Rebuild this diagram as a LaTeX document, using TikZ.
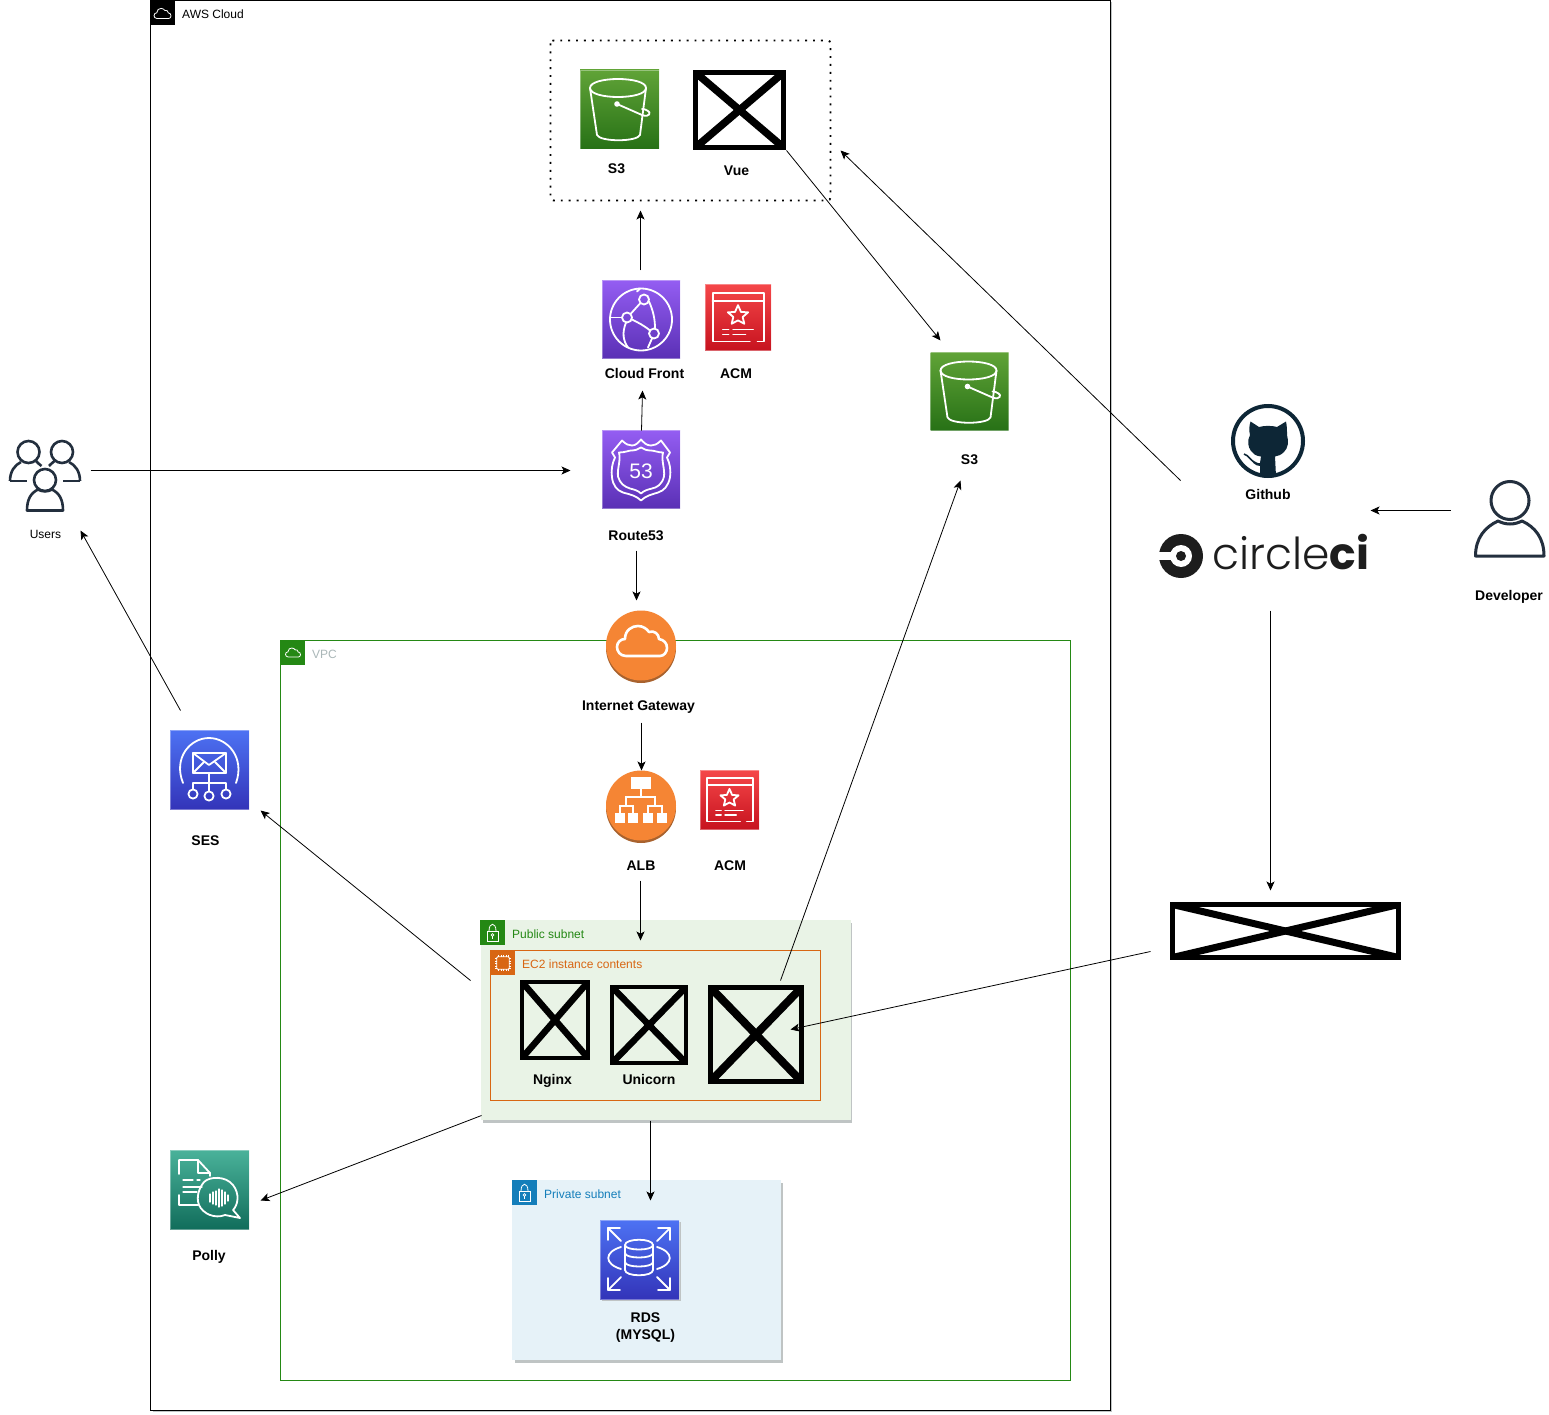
\documentclass[tikz,border=0pt]{standalone}
\usepackage{fontspec}
\setmainfont{Liberation Sans}
\newfontfamily\ccifont[UprightFont=* Light,BoldFont=* Bold]{Poppins}
\usetikzlibrary{arrows.meta,shadings}
\definecolor{awsgreen}{HTML}{248814}
\definecolor{ec2org}{HTML}{D86613}
\definecolor{privblue}{HTML}{147EBA}
\definecolor{awsink}{HTML}{232F3E}
\definecolor{ghink}{HTML}{0D2636}
\definecolor{ccink}{HTML}{1D1D1D}
\definecolor{orangef}{HTML}{F58534}
\definecolor{oranged}{HTML}{A8622E}
\definecolor{shadowc}{HTML}{BFC4C4}
\definecolor{vpcgrey}{HTML}{AAB7B8}
\definecolor{sgt}{HTML}{60A337}\definecolor{sgb}{HTML}{277116}
\definecolor{cft}{HTML}{945DF2}\definecolor{cfb}{HTML}{5A30B5}
\definecolor{act}{HTML}{F54749}\definecolor{acb}{HTML}{C7131F}
\definecolor{bt}{HTML}{4D72F3}\definecolor{bb}{HTML}{3334B9}
\definecolor{pt}{HTML}{4AB29A}\definecolor{pb}{HTML}{116D5B}
\tikzset{
 x=1pt,y=-1pt,
 conn/.style={draw=black,line width=0.8pt,-{Stealth[length=9pt,width=8pt,inset=2.2pt]}},
 lbl/.style={font=\bfseries\fontsize{14}{17}\selectfont,align=center,inner sep=0pt,text=black},
 small/.style={font=\fontsize{12}{14}\selectfont,inner sep=0pt,anchor=west},
 tile/.style={inner sep=0pt,outer sep=0pt,minimum size=#1pt,draw=white,draw opacity=0.35,line width=0.7pt},
 gl/.style={draw=white,line width=1.8pt,line join=round,line cap=round,fill=none},
 thin gl/.style={gl,line width=1.3pt},
 ink/.style={draw=awsink,line width=2.6pt,line join=round,fill=none},
 tag/.style={inner sep=0pt,outer sep=0pt,minimum size=25pt},
 xb/.style={draw=black,inner sep=0pt,outer sep=0pt},
}
\newcommand{\gSThree}{%
 \draw[gl] (10,18) .. controls (10,6) and (66,6) .. (66,18) .. controls (66,30) and (10,30) .. (10,18);
 \draw[gl] (10,18) -- (17,65) .. controls (20,72) and (57,72) .. (60,65) -- (66,18);
 \draw[gl] (37,34) -- (62,45) .. controls (70,48) and (71,42) .. (68,41) .. controls (65,39) and (63,39) .. (62,39);
 \fill[white] (37,34) circle (2.8);}
\newcommand{\gCloudFront}{%
 \draw[gl] (39,39) circle (31);
 \draw[gl] (42,19) circle (5); \draw[gl] (25,37) circle (5); \draw[gl] (52,53) circle (5);
 \draw[gl] (29,33) -- (38,23);
 \draw[gl] (30,39) .. controls (36,42) and (42,45) .. (48,50);
 \draw[gl] (47,21) .. controls (51,30) and (53,38) .. (53,48);
 \draw[gl] (24,42) .. controls (20,52) and (21,60) .. (26,67);
 \draw[gl] (8,37) -- (20,37);
 \draw[gl] (35,11) -- (38,8); \draw[gl] (50,58) -- (46,67);}
\newcommand{\gACM}{%
 \draw[gl] (53,68) -- (9,68) -- (9,11) -- (70,11) -- (70,68) -- (62,68);
 \draw[gl] (9,20) -- (70,20);
 \draw[gl] (39,25) -- (42.5,33) -- (51,33.5) -- (44.5,39) -- (46.5,47) -- (39,43) -- (31.5,47) -- (33.5,39) -- (27,33.5) -- (35.5,33) -- cycle;
 \draw[thin gl] (21,54) -- (28,54); \draw[thin gl] (33,54) -- (57,54);
 \draw[thin gl] (21,59.5) -- (28,59.5); \draw[thin gl] (33,59.5) -- (48,59.5);}
\newcommand{\gRoute}{%
 \draw[gl] (10,22) -- (20,10) .. controls (24,14) and (27,15) .. (30,15) .. controls (34,15) and (36,12) .. (39,9) .. controls (42,12) and (44,15) .. (49,15) .. controls (52,15) and (55,14) .. (59,10) -- (68,22) -- (65,27) .. controls (68,33) and (69,40) .. (68,47) .. controls (66,56) and (62,60) .. (56,62) .. controls (50,64) and (44,65) .. (39,70) .. controls (34,65) and (28,64) .. (21,62) .. controls (15,60) and (11,55) .. (10,47) .. controls (9,40) and (10,33) .. (13,27) -- cycle;
 \draw[gl] (17,22) .. controls (23,22) and (27,20) .. (29,20) .. controls (33,20) and (36,19) .. (39,17) .. controls (42,19) and (45,20) .. (49,20) .. controls (52,20) and (56,22) .. (61,22) .. controls (59,30) and (63,38) .. (62,46) .. controls (60,54) and (55,57) .. (50,58) .. controls (46,59) and (42,60) .. (39,63) .. controls (36,60) and (32,59) .. (28,58) .. controls (22,56) and (18,53) .. (16,46) .. controls (15,38) and (19,30) .. (17,22) -- cycle;}
\newcommand{\gSES}{%
 \draw[gl] (13,53) .. controls (3,28) and (20,8) .. (39,8) .. controls (58,8) and (75,28) .. (66,53);
 \draw[gl] (23,23) rectangle (56,43);
 \draw[gl] (23,23) -- (39,35) -- (56,23); \draw[gl] (23,43) -- (34,32); \draw[gl] (56,43) -- (45,32);
 \draw[gl] (39,43) -- (39,61); \draw[gl] (23,59) -- (23,53) -- (56,53) -- (56,59);
 \draw[gl] (23,64) circle (4.6); \draw[gl] (39,66) circle (4.6); \draw[gl] (56,64) circle (4.6);}
\newcommand{\gPolly}{%
 \draw[gl] (9,24) -- (9,10) -- (28,10) -- (40,23) -- (40,26); \draw[gl] (28,10) -- (28,23) -- (40,23);
 \draw[gl] (9,45) -- (9,55) -- (28,55);
 \draw[thin gl] (13,30) -- (23,30); \draw[thin gl] (27,30) -- (30,30);
 \draw[thin gl] (13,37) -- (32,37); \draw[thin gl] (13,42) -- (27,42);
 \draw[gl] (34,32) .. controls (40,26) and (56,26) .. (63,35) .. controls (70,44) and (68,55) .. (63,60) -- (70,68) -- (55,65) .. controls (45,69) and (33,64) .. (29,55) .. controls (26,47) and (29,38) .. (34,32);
 \foreach \xx/\hh in {40/4,43/6,46/7,49/9,52/8,55/6,58/3}{\draw[thin gl] (\xx,48-\hh) -- (\xx,48+\hh);}}
\newcommand{\gRDS}{%
 \draw[gl] (25,25) .. controls (25,18) and (53,18) .. (53,25) .. controls (53,31) and (25,31) .. (25,25);
 \draw[gl] (25,25) -- (25,50) .. controls (25,57) and (53,57) .. (53,50) -- (53,25);
 \draw[gl] (25,33) .. controls (25,39) and (53,39) .. (53,33);
 \draw[gl] (25,42) .. controls (25,48) and (53,48) .. (53,42);
 \draw[gl] (21,27) .. controls (4,32) and (4,44) .. (21,49);
 \draw[gl] (57,27) .. controls (74,32) and (74,44) .. (57,49);
 \draw[gl] (8,20) -- (8,8) -- (20,8); \draw[gl] (8,8) -- (21,21);
 \draw[gl] (70,20) -- (70,8) -- (58,8); \draw[gl] (70,8) -- (57,21);
 \draw[gl] (8,58) -- (8,70) -- (20,70); \draw[gl] (8,70) -- (21,57);
 \draw[gl] (70,58) -- (70,70) -- (58,70); \draw[gl] (70,70) -- (57,57);}
\newcommand{\gCloud}{%
 (-16,15) .. controls (-22,15) and (-25,10) .. (-25,6) .. controls (-25,1) and (-21,-2) .. (-17,-2) .. controls (-17,-11) and (-10,-15) .. (-4,-15) .. controls (1,-15) and (5,-12) .. (7,-9) .. controls (12,-11) and (17,-7) .. (17,-2) .. controls (22,-1) and (25,2) .. (25,7) .. controls (25,11) and (22,15) .. (18,15) -- cycle}
\newcommand{\gLock}{%
 \draw[white,line width=0.8pt] (7,11) rectangle (18,21);
 \draw[white,line width=0.8pt] (9,11) .. controls (9,2) and (16,2) .. (16,11);
 \draw[white,line width=0.7pt] (12.5,15) circle (1.4); \draw[white,line width=0.7pt] (12.5,16.4) -- (12.5,19);}
\newcommand{\xbox}[7]{%
 \node[xb,line width=#6pt,minimum width=#4pt,minimum height=#5pt] (#1) at (#2,#3) {};
 \begin{scope}
 \clip (#1.north west) rectangle (#1.south east);
 \draw[line width=#7pt] (#1.north west) -- (#1.south east);
 \draw[line width=#7pt] (#1.north east) -- (#1.south west);
 \end{scope}}
\begin{document}
\begin{tikzpicture}
\useasboundingbox (0,0) rectangle (1549,1415);
\fill[white] (0,0) rectangle (1549,1415);
% AWS frame
\draw[shadowc,line width=1pt] (152.5,1411.5) -- (1111.5,1411.5) -- (1111.5,2);
\node[draw=black,line width=0.8pt,inner sep=0pt,minimum width=960pt,minimum height=1410pt] (awsframe) at (630.5,705.5) {};
\node[tag,fill=black] (awstag) at (162.5,12.5) {};
\draw[white,line width=0.8pt,shift={(162.5,13.5)},scale=0.34] \gCloud;
\node[small] (awslabel) at (182,14) {AWS Cloud};
% VPC
\node[draw=awsgreen,line width=0.8pt,inner sep=0pt,minimum width=790pt,minimum height=740pt] (vpc) at (675.5,1010.5) {};
\node[tag,fill=awsgreen,minimum size=24pt] (vpctag) at (293,653) {};
\draw[white,line width=0.8pt,shift={(293,652.5)},scale=0.3] \gCloud;
\node[small,text=vpcgrey] (vpclabel) at (312,654) {VPC};
% Public subnet
\fill[shadowc] (483,923) rectangle (852,1122.5);
\node[fill={rgb,255:red,233;green,243;blue,230},inner sep=0pt,minimum width=370pt,minimum height=200pt] (pub) at (665.5,1020) {};
\node[tag,fill=awsgreen] (pubtag) at (492.5,932.5) {};
\begin{scope}[shift={(pubtag.north west)}]\gLock\end{scope}
\node[small,text=awsgreen] (publabel) at (512,934) {Public subnet};
% EC2
\node[draw=ec2org,line width=0.8pt,inner sep=0pt,minimum width=330pt,minimum height=150pt] (ec2) at (655.5,1025.5) {};
\node[tag,fill=ec2org,minimum size=24.5pt] (ec2tag) at (503,963) {};
\begin{scope}[shift={(ec2tag.north west)}]
 \draw[white,line width=0.9pt,rounded corners=1pt] (6,6) rectangle (18.5,18.5);
 \foreach \t in {7.5,10,12.5,15,17}{\draw[white,line width=0.4pt] (\t,4) -- (\t,6); \draw[white,line width=0.4pt] (\t,18.5) -- (\t,20.5); \draw[white,line width=0.4pt] (4,\t) -- (6,\t); \draw[white,line width=0.4pt] (18.5,\t) -- (20.5,\t);}
\end{scope}
\node[small,text=ec2org] (ec2label) at (522,964) {EC2 instance contents};
% Private subnet
\fill[shadowc] (514.5,1182.5) rectangle (782.5,1362.5);
\node[fill={rgb,255:red,230;green,242;blue,248},inner sep=0pt,minimum width=269pt,minimum height=180pt] (priv) at (646.5,1270) {};
\node[tag,fill=privblue] (privtag) at (524.5,1192.5) {};
\begin{scope}[shift={(privtag.north west)}]\gLock\end{scope}
\node[small,text=privblue] (privlabel) at (544,1194) {Private subnet};
% dotted group
\draw[black,line width=1.9pt,dash pattern=on 1.9pt off 6pt,rounded corners=3pt] (550.5,40.5) rectangle (830.5,200.5);
% S3 group
\node[tile=79,top color=sgt,bottom color=sgb] (sthreea) at (619.5,109.5) {};
\begin{scope}[shift={(sthreea.north west)}]\gSThree\end{scope}
\node[lbl] (sthreealabel) at (616.5,169) {S3};
\xbox{vue}{739.5}{110}{88}{75}{5}{7.5}
\node[lbl] (vuelabel) at (736.5,171) {Vue};
% Cloud Front
\node[tile=78,top color=cft,bottom color=cfb] (cf) at (641,319.5) {};
\begin{scope}[shift={(cf.north west)}]\gCloudFront\end{scope}
\node[lbl] (cflabel) at (644.5,373) {Cloud Front};
\node[tile=66,top color=act,bottom color=acb] (acma) at (738,317) {};
\begin{scope}[shift={(acma.north west)},scale=0.846]\gACM\end{scope}
\node[lbl] (acmalabel) at (736,374) {ACM};
% Route 53
\node[tile=78,top color=cft,bottom color=cfb] (route) at (641,469.5) {};
\begin{scope}[shift={(route.north west)}]\gRoute\end{scope}
\node[text=white,inner sep=0pt,font=\fontsize{21}{24}\selectfont] (routenum) at (641,471) {53};
\node[lbl] (routelabel) at (636,536) {Route53};
% S3 right
\node[tile=78,top color=sgt,bottom color=sgb] (sthreeb) at (969.5,391.5) {};
\begin{scope}[shift={(sthreeb.north west)}]\gSThree\end{scope}
\node[lbl] (sthreeblabel) at (969.5,460) {S3};
% Users
\draw[ink] (28.5,452) circle (11);
\draw[ink] (62,452) circle (11);
\draw[ink] (10,481) .. controls (10,471) and (15,465) .. (21,462);
\draw[ink] (10,481) -- (27,481);
\draw[ink] (36,461) .. controls (38,463) and (40,465) .. (41.5,466);
\draw[ink] (80,481) .. controls (80,471) and (75,465) .. (69,462);
\draw[ink] (80,481) -- (63,481);
\draw[ink] (54.5,461) .. controls (52,463) and (50,465) .. (49,466);
\draw[ink,fill=white] (45,480) circle (11);
\draw[ink] (27,510.5) .. controls (27,499) and (31,493) .. (38,489.5) .. controls (42,492) and (48,492) .. (52,489.5) .. controls (59,493) and (63,499) .. (63,510.5) -- cycle;
\node[small,anchor=center] (userslabel) at (45.5,534) {Users};
% SES, Polly
\node[tile=79,top color=bt,bottom color=bb] (ses) at (209.5,769.5) {};
\begin{scope}[shift={(ses.north west)}]\gSES\end{scope}
\node[lbl] (seslabel) at (205.5,841) {SES};
\node[tile=79,top color=pt,bottom color=pb] (polly) at (209.5,1189.5) {};
\begin{scope}[shift={(polly.north west)}]\gPolly\end{scope}
\node[lbl] (pollylabel) at (209,1257) {Polly};
% IGW
\fill[oranged] (641,648) circle (35);
\node[circle,fill=orangef,inner sep=0pt,minimum size=70pt] (igw) at (641,645.5) {};
\draw[white,line width=2.6pt,line join=round,shift={(642,641)}] \gCloud;
\node[lbl] (igwlabel) at (638.5,707) {Internet Gateway};
% ALB
\fill[oranged] (641,808) circle (35);
\node[circle,fill=orangef,inner sep=0pt,minimum size=70pt] (alb) at (641,805.5) {};
\fill[white] (631,777) rectangle (651,789);
\draw[white,line width=1.1pt] (641,789) -- (641,797) (626,806) -- (626,797) -- (655,797) -- (655,806)
 (620,813) -- (620,806) -- (633,806) -- (633,813) (648,813) -- (648,806) -- (662,806) -- (662,813);
\foreach \xa/\xb in {615/625,628/638,643/653,657/667}{\fill[white] (\xa,813) rectangle (\xb,823);}
\node[lbl] (alblabel) at (641,866) {ALB};
\node[tile=59,top color=act,bottom color=acb] (acmb) at (729.5,799.5) {};
\begin{scope}[shift={(acmb.north west)},scale=0.756]\gACM\end{scope}
\node[lbl] (acmblabel) at (730,866) {ACM};
% EC2 contents
\xbox{nginx}{555}{1020}{66}{76}{4}{6.5}
\node[lbl] (nginxlabel) at (552.5,1081) {Nginx};
\xbox{unicorn}{649}{1025}{74}{76}{4}{6.5}
\node[lbl] (unicornlabel) at (649,1079) {Unicorn};
\xbox{appx}{756}{1034.5}{91}{94}{5}{8}
% RDS
\fill[shadowc] (602,1222) rectangle (681,1301);
\node[tile=79,top color=bt,bottom color=bb] (rds) at (639.5,1259.5) {};
\begin{scope}[shift={(rds.north west)}]\gRDS\end{scope}
\node[lbl] (rdslabel) at (645.5,1327.5) {RDS\\(MYSQL)};
% Github
\node[circle,draw=ghink,line width=4pt,inner sep=0pt,minimum size=70pt,fill=white] (github) at (1268,441) {};
\fill[ghink] (1250.5,421.5) -- (1259,427) .. controls (1264,425.5) and (1272,425.5) .. (1277,427) -- (1286,421.5) .. controls (1287,426) and (1287,431) .. (1287,435) .. controls (1289,442) and (1288,448) .. (1284,452) .. controls (1281,455) and (1278,456) .. (1275,456.5) -- (1276,476.5) .. controls (1271,478) and (1265,478) .. (1260,476.5) -- (1260,466) .. controls (1255,466) and (1252,462) .. (1250,458) .. controls (1252,462) and (1256,464) .. (1260,463) -- (1261,456.5) .. controls (1256,456) and (1253,454) .. (1251,451) .. controls (1248,447) and (1247,441) .. (1250,435) .. controls (1249,431) and (1249,426) .. (1250.5,421.5) -- cycle;
\draw[ghink,line width=1.6pt] (1244,454) .. controls (1249,455) and (1250,462) .. (1260,464.5);
\node[lbl] (githublabel) at (1268,494) {Github};
% circleci
\node[circle,fill=ccink,inner sep=0pt,minimum size=44pt] (ccring) at (1181,556) {};
\fill[white] (1181,556) circle (11);
\fill[white] (1158,552) rectangle (1172,560);
\fill[ccink] (1181,556) circle (5);
\node[anchor=base west,inner sep=0pt,text=ccink,font=\ccifont\fontsize{44}{48}\selectfont] (cciname) at (1212,569.5) {circle\textbf{ci}};
% Developer
\node[circle,draw=awsink,line width=3pt,inner sep=0pt,minimum size=38pt] (devhead) at (1510,500.5) {};
\draw[ink,line width=3pt] (1475.5,556) .. controls (1475.5,538) and (1485,527) .. (1498,521) .. controls (1506,525) and (1514,525) .. (1522,521) .. controls (1535,527) and (1544,538) .. (1544,556) -- cycle;
\node[lbl] (devlabel) at (1509,596.5) {Developer};
% big cross
\xbox{bigx}{1285.5}{931}{226}{53}{5}{7}
% connector ends
\foreach \n/\p in {a1/{640,270},a2/{640,210},b1/{641,430},b2/{642,390},c1/{636,550},c2/{636,600},d1/{641,722},d2/{641,770},e1/{640,880},e2/{640,940},f1/{650,1120},f2/{650,1200},g1/{90,470},g2/{570,470},h1/{180,710},h2/{80,530},i1/{470,980},i2/{260,810},j1/{481,1115},j2/{260,1200},k1/{780,980},k2/{960,480},l1/{786,150},l2/{940,340},m1/{1180,480},m2/{840,150},n1/{1450,510},n2/{1370,510},o1/{1270,610},o2/{1270,890},p1/{1150,951},p2/{790,1029}}{\coordinate[xshift=0.5pt,yshift=-0.5pt] (\n) at (\p);}
\foreach \s/\e in {a1/a2,b1/b2,c1/c2,d1/d2,e1/e2,f1/f2,g1/g2,h1/h2,i1/i2,j1/j2,k1/k2,l1/l2,m1/m2,n1/n2,o1/o2,p1/p2}{\draw[conn] (\s) -- (\e);}
\end{tikzpicture}
\end{document}
